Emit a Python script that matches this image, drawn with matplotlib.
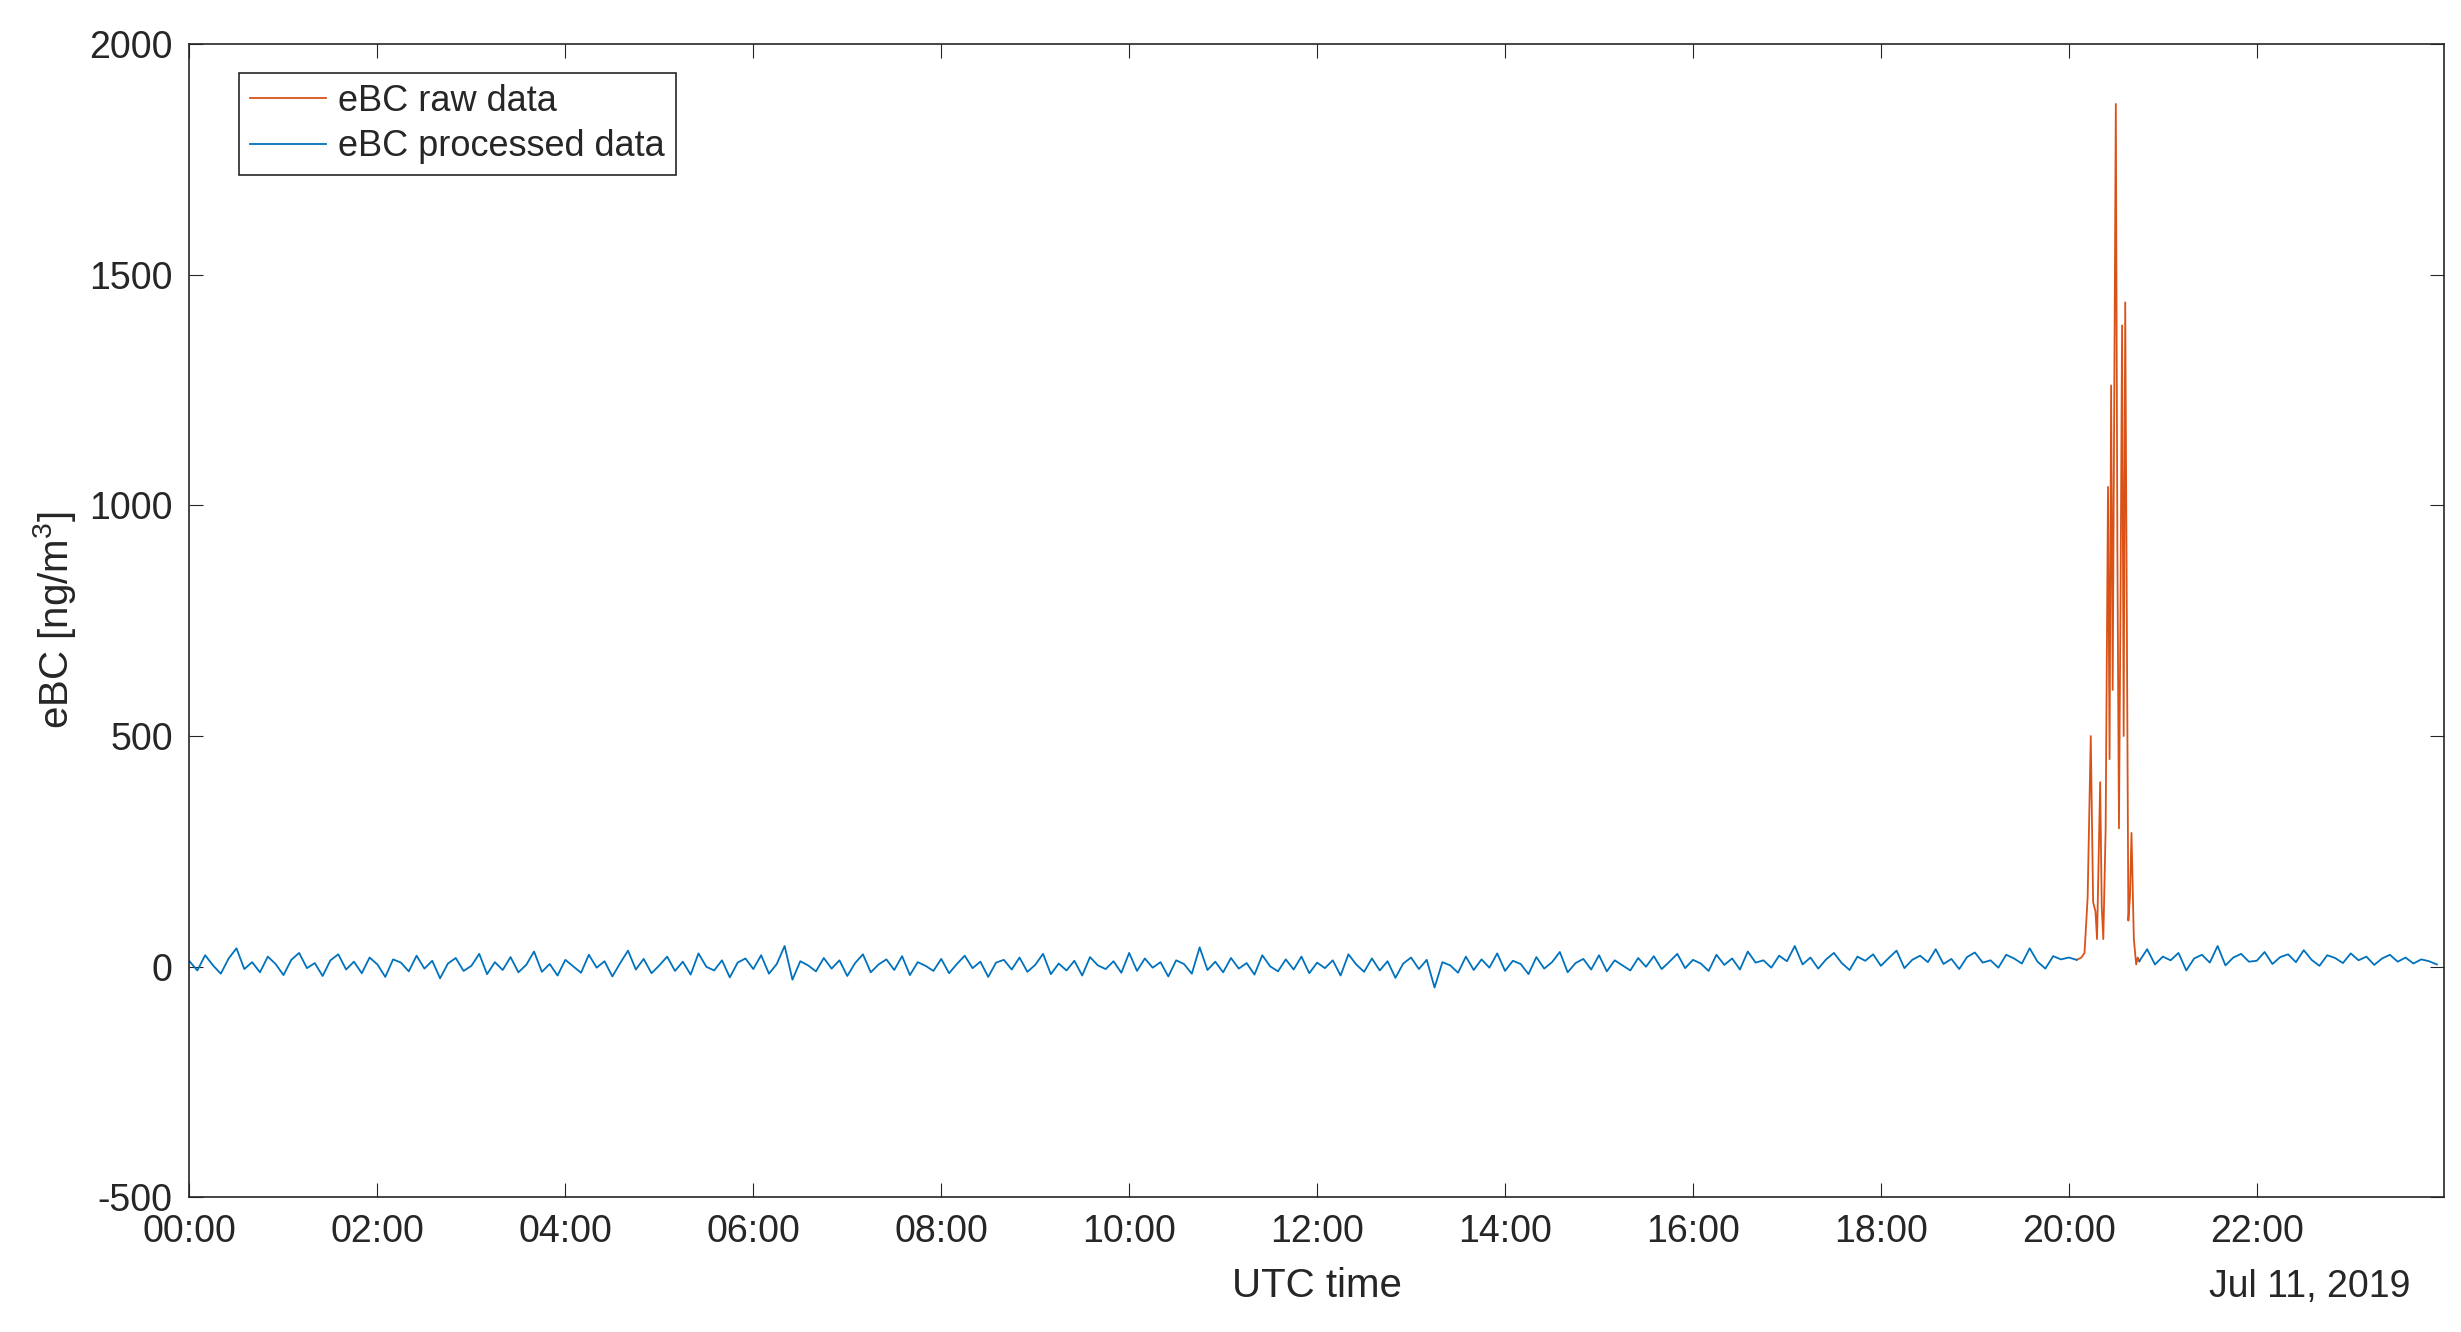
import numpy as np
import matplotlib.pyplot as plt

plt.rcParams['font.family'] = ['Liberation Sans', 'DejaVu Sans']
plt.rcParams['mathtext.fontset'] = 'custom'
plt.rcParams['mathtext.rm'] = 'Liberation Sans'
plt.rcParams['axes.unicode_minus'] = False
plt.rcParams['text.color'] = '#262626'
plt.rcParams['xtick.color'] = '#262626'
plt.rcParams['ytick.color'] = '#262626'
plt.rcParams['axes.labelcolor'] = '#262626'

# processed eBC, 5-minute values [ng/m3], 00:00 .. 23:55
ebc_processed = [
    12, -8, 25, 3, -15, 18, 40, -5, 10, -12, 22, 6, -18, 15, 30, -3, 8, -20, 14, 27, -6, 11, -14, 20,
    5, -22, 16, 9, -10, 24, -4, 13, -25, 7, 19, -9, 2, 28, -16, 10, -7, 21, -12, 4, 33, -11, 6, -19,
    15, 1, -13, 26, -2, 12, -21, 8, 35, -6, 17, -14, 3, 22, -9, 11, -17, 29, 0, -8, 14, -23, 9, 18,
    -5, 25, -15, 6, 45, -28, 12, 3, -10, 19, -4, 14, -20, 8, 27, -12, 5, 16, -7, 23, -18, 10, 2, -9,
    17, -14, 6, 24, -3, 11, -22, 9, 15, -6, 20, -11, 4, 28, -16, 7, -8, 13, -19, 21, 3, -5, 12, -13,
    30, -9, 18, -2, 10, -21, 14, 6, -15, 42, -7, 11, -12, 19, -4, 8, -17, 25, 1, -10, 16, -6, 22, -14,
    9, -3, 14, -19, 27, 5, -11, 18, -8, 12, -24, 7, 20, -5, 15, -45, 10, 3, -13, 22, -7, 16, -2, 29,
    -9, 13, 6, -16, 21, -4, 10, 32, -12, 8, 17, -6, 25, -10, 14, 3, -8, 19, 0, 23, -5, 11, 28, -3,
    15, 7, -9, 26, 4, 18, -6, 33, 9, 14, -2, 24, 12, 45, 5, 20, -4, 16, 30, 8, -7, 22, 13, 27,
    2, 19, 35, -3, 15, 24, 10, 38, 6, 17, -5, 21, 31, 9, 14, -2, 26, 18, 7, 40, 11, -4, 23, 16,
    20, 15, np.nan, np.nan, np.nan, np.nan, np.nan, np.nan, np.nan, 12, 38, 5, 22, 14, 30, -8, 18, 26, 9, 45, 3, 20, 28, 11,
    13, 32, 6, 21, 27, 10, 36, 15, 2, 25, 19, 8, 29, 14, 22, 4, 18, 26, 11, 20, 7, 16, 12, 5,
]
# raw eBC during the spike, minutes after 20:00
spike_minutes = [5, 8, 10, 12, 14, 15.5, 17, 18, 20, 21, 22, 23.5, 25, 26, 27, 28, 30, 31, 32, 33, 34, 35, 36, 38, 39, 40, 41.5, 43, 44, 45]
ebc_raw_spike = [15, 20, 30, 150, 500, 140, 120, 60, 400, 130, 60, 300, 1040, 450, 1260, 600, 1870, 900, 300, 800, 1390, 500, 1440, 100, 150, 290, 60, 5, 20, 12]

t_proc = np.arange(len(ebc_processed)) * 5 / 60.0
t_raw = 20 + np.array(spike_minutes) / 60.0

fig = plt.figure(figsize=(24.61, 13.32), dpi=100)
ax = fig.add_axes([0.077, 0.101, 0.916, 0.866])
ax.plot(t_raw, ebc_raw_spike, color='#D95319', lw=1.3, label='eBC raw data')
ax.plot(t_proc, ebc_processed, color='#0072BD', lw=1.3, label='eBC processed data')

ax.set_xlim(0, 23.99)
ax.set_ylim(-500, 2000)
ax.set_xticks(np.arange(0, 24, 2))
ax.set_xticklabels(['%02d:00' % h for h in range(0, 24, 2)])
ax.set_yticks([-500, 0, 500, 1000, 1500, 2000])
ax.tick_params(direction='in', length=10, labelsize=27, top=True, right=True, pad=12)
for s in ax.spines.values():
    s.set_linewidth(1.2)
    s.set_color('#262626')
ax.set_xlabel('UTC time', fontsize=29, labelpad=12)
ax.set_ylabel('eBC [ng/m$^3$]', fontsize=29, labelpad=8)
ax.text(0.985, -0.062, 'Jul 11, 2019', transform=ax.transAxes, ha='right', va='top', fontsize=27)
leg = ax.legend(loc='upper left', bbox_to_anchor=(0.022, 0.975), fontsize=26, fancybox=False,
                edgecolor='#262626', framealpha=1, borderpad=0.3, handlelength=2.1,
                handletextpad=0.35, labelspacing=0.3, borderaxespad=0)
leg.get_frame().set_linewidth(1.2)
fig.savefig('out.png')
